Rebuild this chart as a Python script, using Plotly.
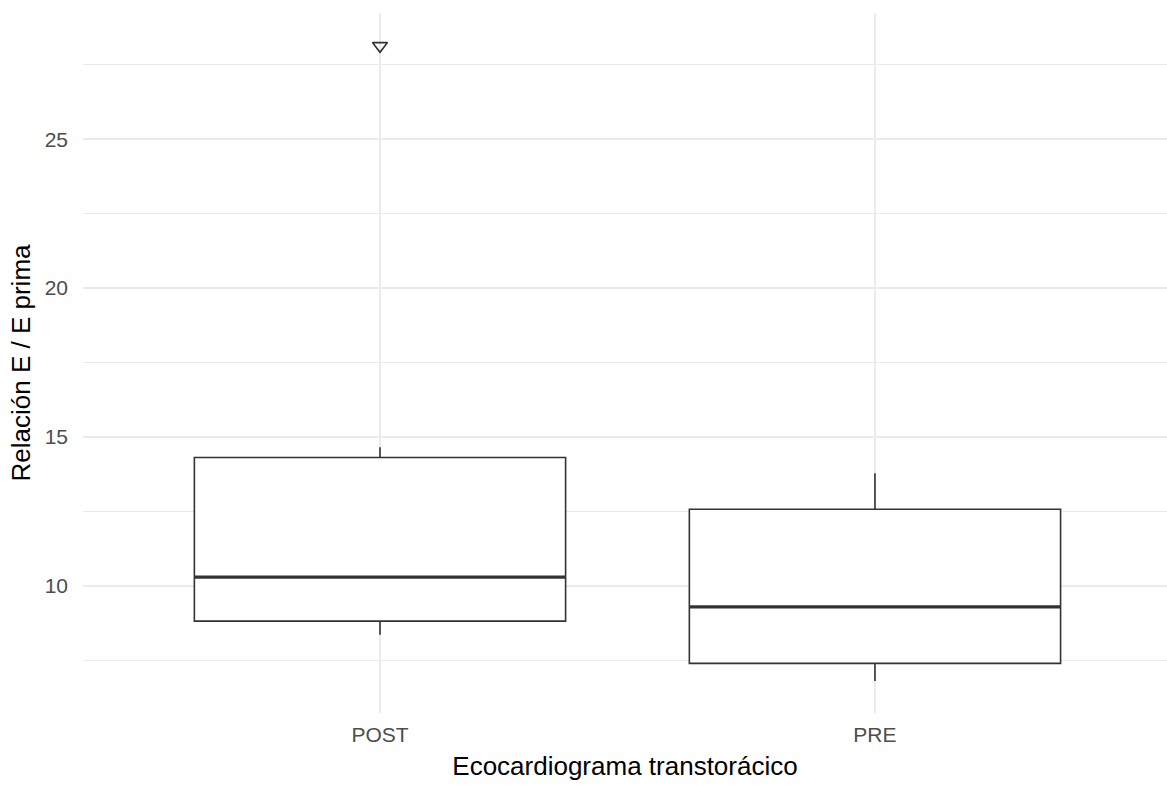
import plotly.graph_objects as go

# Relación E / E prima por momento del ecocardiograma transtorácico
categories = ["POST", "PRE"]
q1 = [8.81, 7.39]
median = [10.29, 9.29]
q3 = [14.31, 12.57]
lower_whisker = [8.35, 6.80]
upper_whisker = [14.65, 13.78]
outlier_group = ["POST"]
outlier_value = [28.14]

BOX_WIDTH = 0.75
INK = "#333333"
GRID = "#EBEBEB"
FONT = "Liberation Sans, Arial, sans-serif"

pos = {c: i for i, c in enumerate(categories)}

fig = go.Figure()

for i, c in enumerate(categories):
    fig.add_trace(go.Box(
        x=[pos[c]],
        q1=[q1[i]], median=[median[i]], q3=[q3[i]],
        lowerfence=[lower_whisker[i]], upperfence=[upper_whisker[i]],
        width=BOX_WIDTH,
        whiskerwidth=0,
        fillcolor="white",
        line=dict(color=INK, width=1.6),
        boxpoints=False,
        hoverinfo="skip",
        showlegend=False,
    ))

# thicker median bar, as in ggplot's geom_boxplot
mx, my = [], []
for i, c in enumerate(categories):
    mx += [pos[c] - BOX_WIDTH / 2, pos[c] + BOX_WIDTH / 2, None]
    my += [median[i], median[i], None]
fig.add_trace(go.Scatter(
    x=mx, y=my, mode="lines",
    line=dict(color=INK, width=3.2),
    hoverinfo="skip", showlegend=False,
))

# outliers
fig.add_trace(go.Scatter(
    x=[pos[c] for c in outlier_group], y=outlier_value,
    mode="markers",
    marker=dict(symbol="triangle-down-open", size=13, color=INK,
                line=dict(color=INK, width=1.6)),
    hoverinfo="skip", showlegend=False,
))

fig.update_layout(
    width=1167, height=785,
    margin=dict(l=83, r=0, t=13, b=72),
    paper_bgcolor="white", plot_bgcolor="white",
    font=dict(family=FONT, color="black"),
    xaxis=dict(
        range=[-0.6, 1.59],
        tickvals=[pos[c] for c in categories], ticktext=categories,
        showgrid=True, gridcolor=GRID, gridwidth=1.5,
        zeroline=False, showline=False, ticks="",
        tickfont=dict(size=21, color="#4D4D4D"),
        ticklabelstandoff=7,
        title=dict(text="Ecocardiograma transtorácico",
                   font=dict(size=26, color="black"), standoff=11),
    ),
    yaxis=dict(
        range=[5.722, 29.244],
        tick0=0, dtick=5,
        showgrid=True, gridcolor=GRID, gridwidth=1.5,
        minor=dict(dtick=2.5, tick0=0, showgrid=True, gridcolor=GRID, gridwidth=1.2),
        zeroline=False, showline=False, ticks="",
        tickfont=dict(size=21, color="#4D4D4D"),
        ticklabelstandoff=14,
        title=dict(text="Relación E / E prima",
                   font=dict(size=26, color="black"), standoff=6),
    ),
)

fig.write_html("out.html")
